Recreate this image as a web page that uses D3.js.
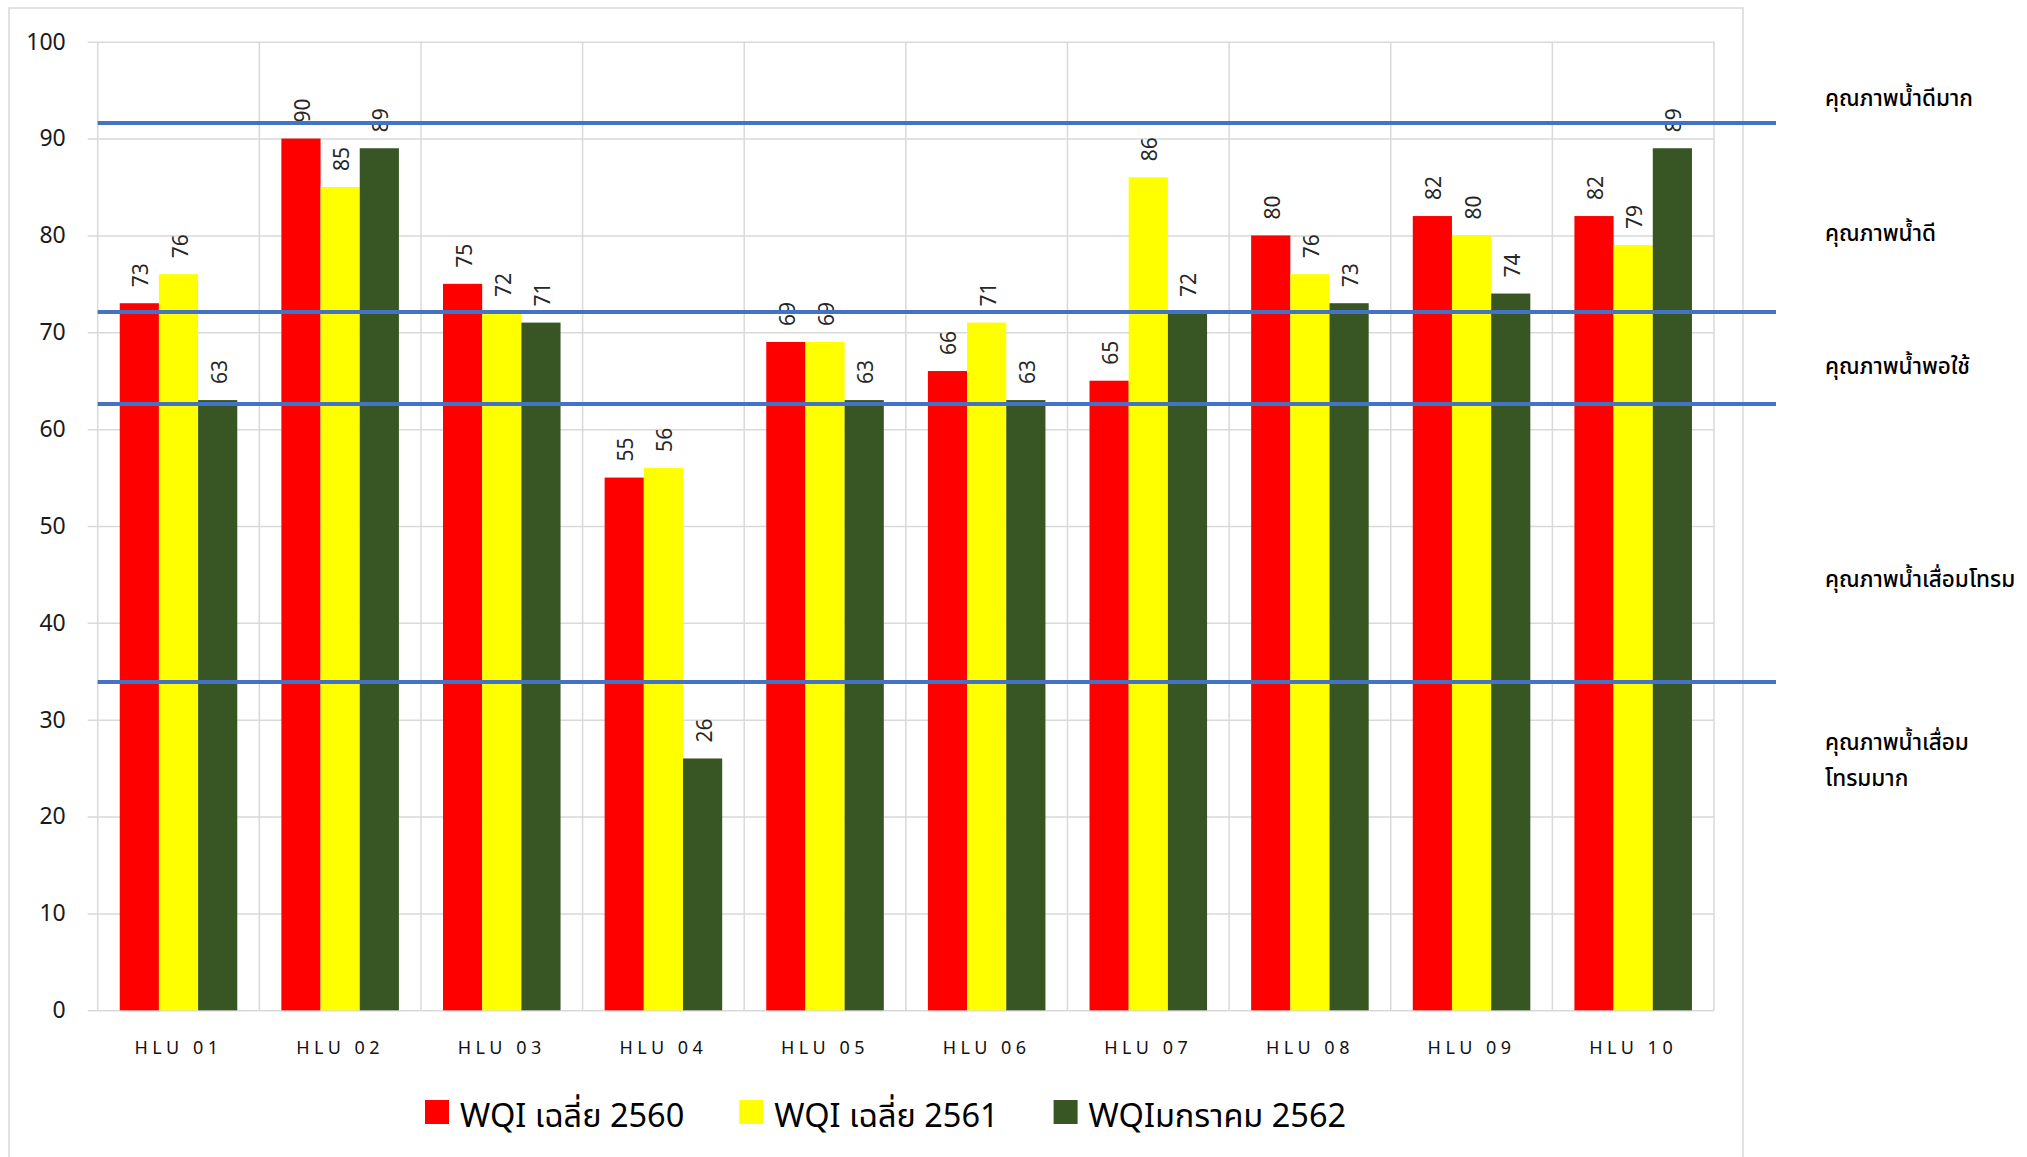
<!DOCTYPE html>
<html>
<head>
<meta charset="utf-8">
<script src="https://cdn.jsdelivr.net/npm/d3@7/dist/d3.min.js"></script>
<style>
  html, body { margin: 0; padding: 0; background: #fff; }
  svg { display: block; }
  text { font-family: "Noto Sans", "Open Sans", sans-serif; }
  .thai { font-family: "Noto Sans Thai", "Leelawadee UI", "Tahoma", "Noto Sans", "DejaVu Sans", sans-serif; }
</style>
</head>
<body>
<svg id="chart" width="2027" height="1157"></svg>
<script>
// ---- data ----
const categories = ["HLU 01","HLU 02","HLU 03","HLU 04","HLU 05","HLU 06","HLU 07","HLU 08","HLU 09","HLU 10"];
const seriesNames = ["WQI เฉลี่ย 2560","WQI เฉลี่ย 2561","WQIมกราคม 2562"];
const wqi2560 = [73, 90, 75, 55, 69, 66, 65, 80, 82, 82];
const wqi2561 = [76, 85, 72, 56, 69, 71, 86, 76, 80, 79];
const wqi2562 = [63, 89, 71, 26, 63, 63, 72, 73, 74, 89];
const yTicks = [0,10,20,30,40,50,60,70,80,90,100];
const thresholdValues = [91.6, 72.1, 62.6, 33.9];
const zoneLabels = [
  {lines:["คุณภาพน้ำดีมาก"], v: 93.4},
  {lines:["คุณภาพน้ำดี"], v: 79.4},
  {lines:["คุณภาพน้ำพอใช้"], v: 65.7},
  {lines:["คุณภาพน้ำเสื่อมโทรม"], v: 43.7},
  {lines:["คุณภาพน้ำเสื่อม","โทรมมาก"], v: 26.9}
];
const seriesColors = ["#FF0000", "#FFFF00", "#375623"];

// ---- layout ----
const svg = d3.select("#chart");
const W = 2027, H = 1157;
const pLeft = 97.7, pRight = 1714, pTop = 41.7, pBottom = 1010.3;

svg.append("rect").attr("width", W).attr("height", H).attr("fill", "#fff");
// chart frame
svg.append("rect").attr("x", 9).attr("y", 8).attr("width", 1734).attr("height", 1200)
  .attr("fill", "none").attr("stroke", "#d9d9d9").attr("stroke-width", 1.5);

const y = d3.scaleLinear().domain([0, 100]).range([pBottom, pTop]);
const x0 = d3.scaleBand().domain(categories).range([pLeft, pRight]).paddingInner(0).paddingOuter(0);
const x1 = d3.scaleBand().domain(d3.range(3)).range([0, x0.bandwidth()]).paddingInner(0).paddingOuter(0.5625);

// horizontal gridlines
const yAxis = d3.axisLeft(y).tickValues(yTicks).tickSize(pRight - pLeft + 10).tickSizeOuter(0).tickPadding(22)
  .tickFormat(d3.format("d"));
const gy = svg.append("g").attr("transform", `translate(${pRight},0)`).call(yAxis);
gy.select(".domain").remove();
gy.selectAll(".tick line").attr("stroke", "#d9d9d9").attr("stroke-width", 1.5);
gy.selectAll(".tick text").attr("font-size", 23).attr("fill", "#1a1a1a")
  .attr("font-family", "'Noto Sans', sans-serif");

// vertical gridlines at category boundaries
const bounds = categories.map(c => x0(c)).concat([pRight]);
svg.append("g").selectAll("line").data(bounds).join("line")
  .attr("x1", d => d).attr("x2", d => d).attr("y1", pTop).attr("y2", pBottom)
  .attr("stroke", "#d9d9d9").attr("stroke-width", 1.5);

// x axis labels
const xAxis = d3.axisBottom(x0).tickSize(0).tickPadding(0);
const gx = svg.append("g").attr("transform", `translate(0,${pBottom})`).call(xAxis);
gx.select(".domain").remove();
gx.selectAll(".tick text").attr("font-size", 18).attr("fill", "#111")
  .attr("letter-spacing", "4.5px").attr("dy", null).attr("y", 44)
  .attr("font-family", "'Noto Sans', sans-serif");

// bars
const seriesData = [wqi2560, wqi2561, wqi2562];
const groups = svg.append("g").selectAll("g").data(categories).join("g")
  .attr("transform", c => `translate(${x0(c)},0)`);
groups.selectAll("rect").data((c, i) => seriesData.map((s, k) => ({k, v: s[i]}))).join("rect")
  .attr("x", d => x1(d.k)).attr("width", x1.bandwidth())
  .attr("y", d => y(d.v)).attr("height", d => y(0) - y(d.v))
  .attr("fill", d => seriesColors[d.k]);

// data labels (rotated)
groups.selectAll("text.lbl").data((c, i) => seriesData.map((s, k) => ({k, v: s[i]}))).join("text")
  .attr("class", "lbl")
  .attr("transform", d => `translate(${x1(d.k) + x1.bandwidth()/2 + 1},${y(d.v) - 16}) rotate(-90)`)
  .attr("text-anchor", "start").attr("dominant-baseline", "central")
  .attr("font-size", 21).attr("fill", "#262626")
  .text(d => d.v);

// threshold lines
svg.append("g").selectAll("line").data(thresholdValues).join("line")
  .attr("x1", pLeft).attr("x2", 1776).attr("y1", d => y(d)).attr("y2", d => y(d))
  .attr("stroke", "#4472C4").attr("stroke-width", 4);

// zone labels on right
const zl = svg.append("g").selectAll("text").data(zoneLabels).join("text")
  .attr("class", "thai").attr("x", 1825).attr("y", d => y(d.v))
  .attr("font-size", 22.5).attr("font-weight", 500).attr("fill", "#000");
zl.selectAll("tspan").data(d => d.lines).join("tspan")
  .attr("x", 1825).attr("dy", (d, i) => i === 0 ? 0 : 36).text(d => d);

// legend
const leg = svg.append("g");
let lx = 425;
seriesNames.forEach((name, k) => {
  leg.append("rect").attr("x", lx).attr("y", 1100).attr("width", 24).attr("height", 24)
    .attr("fill", seriesColors[k]);
  const t = leg.append("text").attr("class", "thai").attr("x", lx + 35).attr("y", 1126.5)
    .attr("font-size", 32.5).attr("fill", "#000").text(name);
  const w = t.node().getComputedTextLength();
  lx = lx + 35 + w + 55;
});
</script>
</body>
</html>
